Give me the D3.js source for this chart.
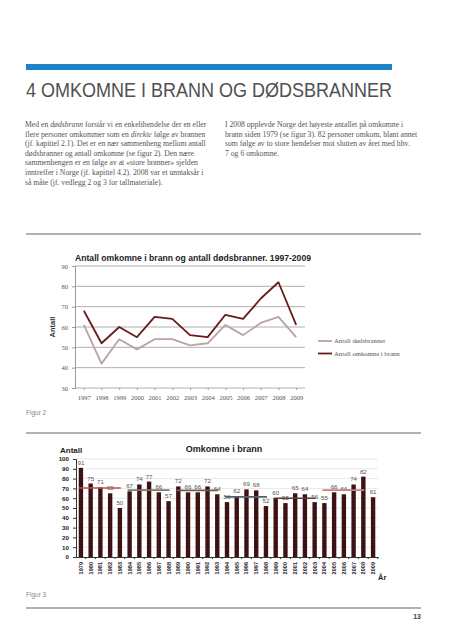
<!DOCTYPE html>
<html><head><meta charset="utf-8">
<script src="https://cdn.jsdelivr.net/npm/d3@7"></script>
<style>
html,body{margin:0;padding:0;background:#fff;}
svg{display:block;}
</style></head>
<body>
<script>
// ---------- DATA ----------
const lineYears = ["1997","1998","1999","2000","2001","2002","2003","2004","2005","2006","2007","2008","2009"];
const omkomne = [68,52,60,55,65,64,56,55,66,64,74,82,61];
const dodsbranner = [61,42,54,49,54,54,51,52,61,56,62,65,55];
const lineYTicks = [30,40,50,60,70,80,90];
const lineSeriesNames = ["Antall dødsbranner","Antall omkomne i brann"];

const barYears = ["1979","1980","1981","1982","1983","1984","1985","1986","1987","1988","1989","1990","1991","1992","1993","1994","1995","1996","1997","1998","1999","2000","2001","2002","2003","2004","2005","2006","2007","2008","2009"];
const barValues = [91,75,71,65,50,67,74,77,66,57,72,66,66,72,64,56,62,69,68,52,60,55,65,64,56,55,66,64,74,82,61];
const barYTicks = [0,10,20,30,40,50,60,70,80,90,100];
const avgStart = ["1979","1984","1989","1994","1999","2004"];
const avgEnd   = ["1983","1988","1993","1998","2003","2008"];
const avgValues = [70.4,68.2,68,61.4,60,68.2];

const pageTitle = "4 OMKOMNE I BRANN OG DØDSBRANNER";
const leftPara = [
  [["Med en ",""],["dødsbrann","i"],[" forstår vi en enkelthendelse der en eller",""]],
  [["flere personer omkommer som en ",""],["direkte","i"],[" følge av brannen",""]],
  [["(jf. kapittel 2.1). Det er en nær sammenheng mellom antall",""]],
  [["dødsbranner og antall omkomne (se figur 2). Den nære",""]],
  [["sammenhengen er en følge av at «store branner» sjelden",""]],
  [["inntreffer i Norge (jf. kapittel 4.2). 2008 var et unntaksår i",""]],
  [["så måte (jf. vedlegg 2 og 3 for tallmateriale).",""]]
];
const rightPara = [
  "I 2008 opplevde Norge det høyeste antallet på omkomne i",
  "brann siden 1979 (se figur 3). 82 personer omkom, blant annet",
  "som følge av to store hendelser mot slutten av året med hhv.",
  "7 og 6 omkomne."
];

// ---------- PAGE ----------
const W = 453, H = 640;
const svg = d3.select("body").append("svg").attr("width", W).attr("height", H);

svg.append("rect").attr("x",26).attr("y",64).attr("width",366).attr("height",6).attr("fill","#1b84c6");
svg.append("text").attr("x",26).attr("y",97)
  .attr("font-family","Liberation Sans, Arial, sans-serif").attr("font-size",21)
  .attr("fill","#505050").attr("textLength",366).attr("lengthAdjust","spacingAndGlyphs")
  .text(pageTitle);

const serif = "Liberation Serif, Times New Roman, serif";
const sans = "Liberation Sans, Arial, sans-serif";
const lh = 9.6, py0 = 127;
leftPara.forEach((line,i)=>{
  const t = svg.append("text").attr("x",25).attr("y",py0+i*lh)
    .attr("font-family",serif).attr("font-size",7.7).attr("fill","#555");
  line.forEach(seg=>{ t.append("tspan").attr("font-style",seg[1]==="i"?"italic":"normal").text(seg[0]); });
});
rightPara.forEach((line,i)=>{
  svg.append("text").attr("x",225).attr("y",py0+i*lh)
    .attr("font-family",serif).attr("font-size",7.7).attr("fill","#555").text(line);
});

// separators
[234,433,608].forEach(y=>{
  svg.append("line").attr("x1",26).attr("x2",421).attr("y1",y).attr("y2",y)
    .attr("stroke","#999").attr("stroke-width",1.6);
});
svg.append("text").attr("x",26).attr("y",415).attr("font-family",sans).attr("font-size",6.5).attr("fill","#888").text("Figur 2");
svg.append("text").attr("x",26).attr("y",597).attr("font-family",sans).attr("font-size",6.5).attr("fill","#888").text("Figur 3");
svg.append("text").attr("x",421).attr("y",619).attr("text-anchor","end").attr("font-family",sans).attr("font-size",7).attr("font-weight","bold").attr("fill","#444").text("13");

// ---------- LINE CHART ----------
const lx = d3.scalePoint().domain(lineYears).range([75,305]).padding(0.5);
const ly = d3.scaleLinear().domain([30,90]).range([388,266]);
const lg = svg.append("g");
lg.append("g").selectAll("line").data(lineYTicks).join("line")
  .attr("x1",75).attr("x2",305).attr("y1",d=>ly(d)).attr("y2",d=>ly(d))
  .attr("stroke","#9a9a9a").attr("stroke-width",0.8);
const lyAxis = lg.append("g").attr("transform","translate(75,0)")
  .call(d3.axisLeft(ly).tickValues(lineYTicks).tickSize(3).tickPadding(4));
lyAxis.select(".domain").attr("stroke","#9a9a9a");
lyAxis.selectAll("line").attr("stroke","#9a9a9a");
lyAxis.selectAll("text").attr("font-family",serif).attr("font-size",6.5).attr("fill","#555");
const lxAxis = lg.append("g").attr("transform","translate(0,388)")
  .call(d3.axisBottom(lx).tickSize(2).tickPadding(5));
lxAxis.select(".domain").remove();
lxAxis.selectAll("line").attr("stroke","#9a9a9a");
lxAxis.selectAll("text").attr("font-family",serif).attr("font-size",6.5).attr("fill","#555");
lg.append("text").attr("transform","translate(55,327) rotate(-90)").attr("text-anchor","middle")
  .attr("font-family",sans).attr("font-weight","bold").attr("font-size",7.5).attr("fill","#333").text("Antall");
lg.append("text").attr("x",193).attr("y",261).attr("text-anchor","middle")
  .attr("font-family",sans).attr("font-weight","bold").attr("font-size",8.6).attr("fill","#222")
  .text("Antall omkomne i brann og antall dødsbranner. 1997-2009");
const lineGen = d3.line().x((d,i)=>lx(lineYears[i])).y(d=>ly(d));
const lineColors = ["#b9a3a3","#6a1a1c"];
[dodsbranner, omkomne].forEach((s,k)=>{
  lg.append("path").datum(s).attr("d",lineGen).attr("fill","none")
    .attr("stroke",lineColors[k]).attr("stroke-width",1.8).attr("stroke-linejoin","round");
});
lineSeriesNames.forEach((n,k)=>{
  const y = 341 + k*12.5;
  lg.append("line").attr("x1",318).attr("x2",332).attr("y1",y).attr("y2",y)
    .attr("stroke",lineColors[k]).attr("stroke-width",1.8);
  lg.append("text").attr("x",334).attr("y",y+2).attr("font-family",serif).attr("font-size",6.7)
    .attr("fill","#555").text(n);
});

// ---------- BAR CHART ----------
const bx = d3.scaleBand().domain(barYears).range([76,378]).paddingInner(0.55).paddingOuter(0.28);
const by = d3.scaleLinear().domain([0,100]).range([557,459]);
const bg = svg.append("g");
bg.append("g").selectAll("line").data(barYTicks.filter(d=>d>0)).join("line")
  .attr("x1",76).attr("x2",378).attr("y1",d=>by(d)).attr("y2",d=>by(d))
  .attr("stroke","#e2e2e2").attr("stroke-width",0.8);
bg.selectAll("rect.bar").data(barValues).join("rect").attr("class","bar")
  .attr("x",(d,i)=>bx(barYears[i])).attr("width",bx.bandwidth())
  .attr("y",d=>by(d)).attr("height",d=>by(0)-by(d))
  .attr("fill","#3c1213");
bg.selectAll("text.val").data(barValues).join("text").attr("class","val")
  .attr("x",(d,i)=>bx(barYears[i])+bx.bandwidth()/2).attr("y",d=>by(d)-3)
  .attr("text-anchor","middle").attr("font-family",sans).attr("font-size",6.2).attr("fill","#555")
  .text(d=>d);
const avgColors = ["#c0504d","#7c7c64","#6f5a52","#56606a","#5b3a3a","#c98080"];
avgValues.forEach((v,k)=>{
  bg.append("line")
    .attr("x1",bx(avgStart[k])+bx.bandwidth()/2-2).attr("x2",bx(avgEnd[k])+bx.bandwidth()/2+1)
    .attr("y1",by(v)).attr("y2",by(v)).attr("stroke",avgColors[k]).attr("stroke-width",1.6);
});
const byAxis = bg.append("g").attr("transform","translate(76,0)")
  .call(d3.axisLeft(by).tickValues(barYTicks).tickSize(3).tickPadding(4));
byAxis.select(".domain").attr("stroke","#333");
byAxis.selectAll("line").attr("stroke","#333");
byAxis.selectAll("text").attr("font-family",sans).attr("font-weight","bold").attr("font-size",6.2).attr("fill","#222");
const bxAxis = bg.append("g").attr("transform","translate(0,557)")
  .call(d3.axisBottom(bx).tickSize(2).tickSizeOuter(0));
bxAxis.select(".domain").attr("stroke","#333");
bxAxis.selectAll("line").attr("stroke","#333").attr("transform",`translate(${bx.step()/2},0)`);
bxAxis.selectAll("text").attr("font-family",sans).attr("font-weight","bold").attr("font-size",5.6).attr("fill","#222")
  .attr("transform","rotate(-90)").attr("text-anchor","end").attr("x",-5).attr("y",0).attr("dy","0.35em");
bg.append("text").attr("x",60).attr("y",453).attr("font-family",sans).attr("font-weight","bold").attr("font-size",8).attr("fill","#222").text("Antall");
bg.append("text").attr("x",224).attr("y",452).attr("text-anchor","middle").attr("font-family",sans).attr("font-weight","bold").attr("font-size",9).attr("fill","#222").text("Omkomne i brann");
bg.append("text").attr("x",378).attr("y",580).attr("font-family",sans).attr("font-weight","bold").attr("font-size",7.5).attr("fill","#222").text("År");
</script>
</body></html>
